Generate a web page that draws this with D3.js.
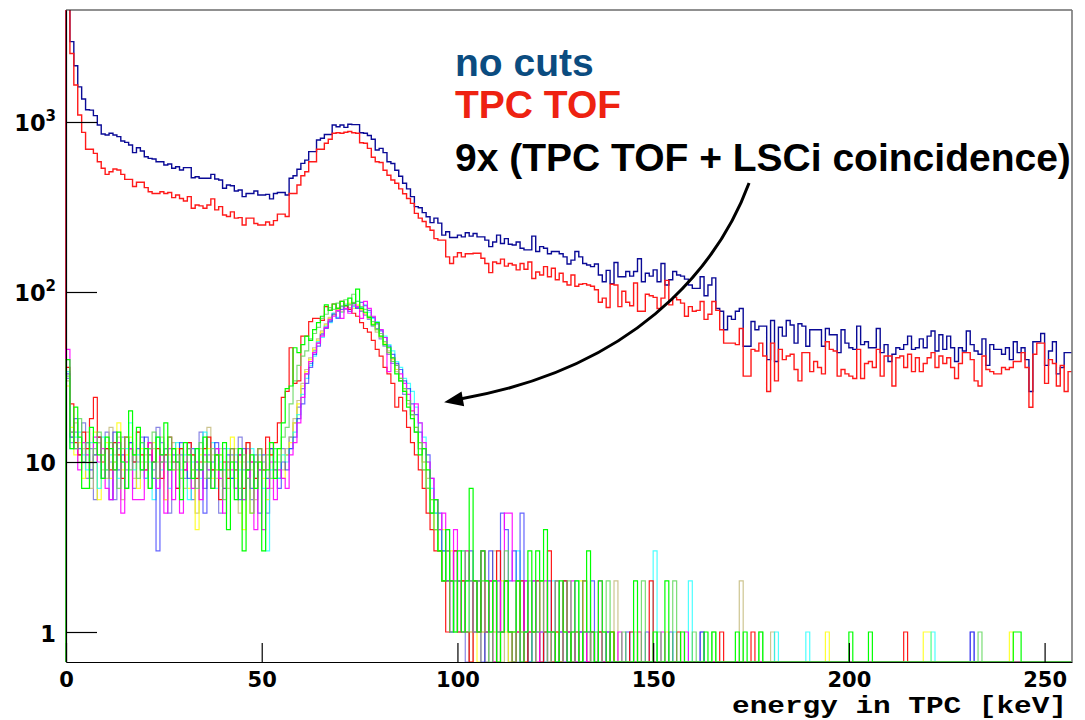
<!DOCTYPE html>
<html>
<head>
<meta charset="utf-8">
<script src="https://cdn.jsdelivr.net/npm/d3@7"></script>
<style>
  body { margin: 0; background: #fff; }
  svg { display: block; }
</style>
</head>
<body>
<svg id="chart" width="1085" height="720"></svg>
<script>
// ---- histogram data: counts per 1 keV bin, starting at 0 keV ----
const binWidth = 1;          // keV
const xMax = 257;            // keV, right edge of the frame

// spectrum without cuts
const noCuts = [
  6000,2970,2140,1610,1365,1180,1175,1090,960,850,
  839,858,839,820,773,759,732,660,706,675,
  625,611,606,584,584,558,566,534,545,522,
  539,539,470,476,467,467,467,492,462,456,
  408,426,422,393,398,364,380,380,393,372,
  372,375,353,380,385,385,372,467,483,527,
  571,597,669,669,783,802,845,845,960,938,
  960,930,970,965,965,865,858,832,791,684,
  700,660,584,570,520,480,436,404,364,318,
  313,293,277,256,272,254,216,226,209,209,
  216,211,223,213,221,211,211,202,185,197,
  216,193,206,191,189,197,181,177,177,213,
  173,185,181,168,173,173,168,161,146,154,
  173,161,147,144,141,146,126,115,134,112,
  149,123,123,132,124,132,157,115,129,124,
  135,115,147,110,118,132,126,124,119,110,
  105,105,123,95,110,121,80,77,60,72,
  69,77,80,48,48,67,60,63,63,40,
  68,39,62,55,68,64,50,65,63,48,
  60,60,60,48,61,56,56,44,60,50,
  47,46,63,49,51,47,47,61,44,49,
  39,43,47,46,49,55,46,47,53,47,
  55,59,45,56,46,55,47,39,47,45,
  59,49,45,43,53,37,49,46,46,43,
  47,40,51,44,47,40,26,51,51,57,
  37,45,51,33,36,44,44
];

// spectrum with the TPC time-of-flight cut
const tpcTof = [
  5500,2530,1650,1100,869,691,691,654,584,534,
  492,510,529,522,492,460,460,417,442,442,
  411,389,380,380,389,380,385,359,372,355,
  343,364,311,325,321,311,325,353,304,318,
  284,278,296,272,274,248,272,272,253,248,
  248,258,248,263,287,287,278,380,380,426,
  483,510,584,584,691,691,750,791,858,865,
  858,870,880,865,858,755,750,700,620,584,
  578,520,486,456,436,404,378,355,332,290,
  272,260,242,231,206,202,202,161,147,161,
  170,161,168,168,169,169,158,147,130,150,
  147,156,142,147,144,135,147,136,150,120,
  131,126,141,123,138,118,129,115,110,126,
  108,111,112,110,108,103,87,92,81,111,
  110,82,101,87,83,113,77,77,97,95,
  93,80,92,117,84,93,90,86,72,82,
  77,78,88,69,74,88,78,60,50,50,
  50,49,61,32,32,46,45,50,42,26,
  50,30,46,40,42,43,35,30,44,44,
  34,39,36,33,51,46,45,32,35,33,
  32,31,46,31,38,39,36,46,32,42,
  42,28,41,42,36,43,34,41,34,38,
  41,44,36,42,38,41,36,31,38,44,
  44,40,30,28,42,35,34,33,33,36,
  35,36,39,39,44,36,21,43,50,50,
  29,40,38,28,37,26,34
];

// nine TPC TOF + LSCi coincidence spectra, bins 0..139, and isolated counts above
const coincViolet = [
  31,13,15,11,17,8,12,6,13,11, 15,10,6,12,14,9,13,7,10,14,
  8,12,9,16,13,10,5,12,10,11, 8,13,6,10,15,7,11,9,12,5,
  12,9,11,7,14,9,12,6,11,9, 10,5,12,10,8,12,11,14,17,21,
  27,33,38,45,50,57,62,68,75,77, 82,79,85,83,81,77,73,69,63,61,
  53,48,43,38,35,30,25,23,19,15, 12,10,7,5,5,3,2,2,1,2,
  1,2,0,1,2,1,1,0,2,1, 0,1,2,0,1,0,1,2,0,1,
  0,1,0,1,0,1,0,0,1,0, 0,1,0,0,1,0,0,0,0,0
];
const coincVioletTail = [[162,1],[231,1]];

const coincKhaki = [
  30,14,17,10,12,15,7,11,13,9, 8,16,11,14,6,10,12,8,15,10,
  11,7,12,10,14,6,10,13,9,12, 7,10,11,5,12,8,16,11,8,12,
  9,7,10,12,5,10,13,9,6,10, 9,12,7,10,11,9,12,14,18,23,
  29,35,41,47,53,59,65,71,73,80, 77,85,81,87,83,78,74,70,64,58,
  54,49,45,39,34,30,26,22,19,15, 12,9,8,5,4,3,2,3,2,1,
  2,2,1,0,2,1,2,0,1,3, 1,0,2,1,0,1,2,0,1,0,
  1,2,0,1,0,2,0,1,0,0, 1,0,1,0,1,0,0,1,0,0
];
const coincKhakiTail = [[140,2],[145,1],[172,2],[180,1]];

const coincYellow = [
  28,16,11,13,8,12,10,15,6,11, 13,8,10,17,9,11,14,10,7,12,
  9,11,13,8,10,6,11,9,12,8, 10,7,9,4,11,10,12,8,9,11,
  7,9,14,8,10,4,9,5,7,10, 8,6,11,9,12,8,11,13,17,22,
  28,34,40,46,52,58,64,70,74,79, 76,83,86,80,84,79,75,71,65,60,
  55,50,44,40,35,31,27,23,20,16, 13,10,7,6,4,3,4,2,3,1,
  2,1,3,1,2,0,1,2,1,1, 0,2,1,0,1,2,1,0,1,1,
  0,2,1,0,1,1,0,1,0,1, 0,2,0,1,0,0,1,0,0,1
];
const coincYellowTail = [[146,1],[153,1],[194,1],[219,1],[220,1],[241,1]];

const coincCyan = [
  34,12,14,15,11,9,13,10,7,14, 9,11,13,8,10,12,17,9,11,13,
  8,10,6,14,9,11,7,10,13,9, 11,6,10,12,8,15,9,13,7,10,
  9,12,8,11,9,6,10,12,8,11, 7,3,9,12,8,11,10,12,15,19,
  25,31,37,42,51,54,63,66,75,71, 76,84,79,82,88,81,84,76,70,67,
  60,55,49,45,39,36,31,29,26,21, 17,14,10,7,5,4,3,4,2,1,
  2,3,1,2,2,1,3,2,1,0, 2,1,2,1,0,3,2,1,0,1,
  2,1,0,1,2,0,1,0,1,0, 2,1,0,1,0,1,0,0,1,0
];
const coincCyanTail = [[144,1],[150,3],[155,1],[159,2],[181,1],[189,1],[221,1]];

const coincBlue = [
  33,14,18,12,10,13,9,11,14,8, 12,6,15,9,11,7,13,10,12,9,
  14,11,8,3,10,12,9,11,7,13, 10,8,12,9,9,5,8,10,13,9,
  7,11,8,10,6,12,9,7,10,5, 11,8,12,9,7,10,9,12,14,18,
  22,29,36,43,48,56,61,67,74,70, 79,83,77,85,80,87,83,78,71,65,
  59,54,48,43,38,35,30,27,22,19, 15,12,11,8,6,5,3,2,1,3,
  2,1,2,3,1,2,0,1,3,2, 1,5,4,2,3,2,5,1,0,2,
  1,0,1,2,1,0,1,2,0,1, 0,1,0,1,2,0,1,0,1,0
];
const coincBlueTail = [[143,1],[148,1],[154,1],[162,1],[231,1]];

const coincRed = [
  36,22,13,11,15,12,18,24,14,10, 12,9,13,11,8,14,12,10,15,11,
  9,13,10,12,8,11,14,10,7,12, 9,13,11,8,10,12,14,9,11,6,
  10,8,12,9,11,7,13,10,8,12, 9,14,11,13,17,24,26,47,29,30,
  55,55,67,70,70,68,82,78,85,80, 88,83,79,75,72,66,61,58,52,46,
  42,36,33,29,21,24,20,16,13,11, 9,7,5,4,3,3,2,1,2,3,
  1,2,1,0,2,1,3,1,2,0, 3,1,2,1,0,1,2,0,1,1,
  2,0,1,3,0,1,0,2,1,0, 1,0,2,0,1,0,1,0,0,1
];
const coincRedTail = [[144,1],[149,2],[156,1],[167,1],[175,1],[214,1]];

const coincMagenta = [
  46,15,12,9,13,11,8,14,10,12, 7,6,9,13,5,10,12,6,6,6,
  9,13,10,7,11,5,12,6,10,5, 9,12,7,10,6,11,9,7,12,8,
  5,10,9,7,11,6,8,10,4,9, 4,7,10,6,9,8,7,11,13,17,
  24,33,39,44,50,55,62,69,72,78, 70,80,75,86,82,70,88,80,72,66,
  60,54,34,41,37,33,29,25,20,22, 17,13,10,8,6,4,5,3,2,4,
  2,1,3,2,1,2,3,1,2,0, 2,1,5,5,2,1,0,2,1,2,
  0,1,2,0,1,2,1,0,1,2, 0,1,1,0,1,0,2,0,1,0
];
const coincMagentaTail = [[141,1],[146,1],[152,1],[158,1]];

const coincLime = [
  32,15,12,18,10,13,8,12,15,11, 9,13,10,7,12,14,9,11,8,13,
  10,12,15,8,10,12,14,9,11,8, 10,12,9,7,13,10,8,12,9,11,
  6,10,12,9,7,11,8,5,10,12, 9,11,8,12,10,14,16,22,30,37,
  42,45,53,57,62,70,74,81,79,86, 83,90,84,97,88,82,79,72,67,60,
  57,51,44,39,37,31,27,23,19,16, 13,9,7,6,4,3,2,3,1,2,
  2,3,1,2,1,2,2,1,0,2, 1,1,3,1,0,2,1,1,2,0,
  1,2,1,0,1,2,0,1,2,0, 1,0,2,1,0,1,0,1,2,0
];
const coincLimeTail = [[142,1],[147,2],[151,1],[155,2],[160,1],[165,1],[177,1],[233,1]];

const coincGreen = [
  40,12,21,14,7,7,16,13,11,8, 14,12,9,15,10,7,20,11,16,9,
  12,7,10,14,11,17,9,12,10,6, 13,11,8,12,9,14,10,7,11,9,
  13,4,10,6,12,3,9,11,7,10, 3,9,13,8,12,17,27,28,47,44,
  49,55,52,60,66,72,84,78,85,80, 88,83,92,86,104,80,76,71,64,66,
  55,49,47,41,33,30,26,21,18,15, 11,12,9,5,6,3,2,4,2,1,
  3,1,2,7,2,1,3,2,1,2, 0,1,2,1,1,2,0,1,3,1,
  3,2,4,1,1,0,2,1,0,1, 2,0,1,3,1,0,2,1,0,1
];
const coincGreenTail = [[145,2],[150,1],[153,2],[157,1],[163,1],[165,1],[171,1],[173,1],[177,1],[200,1],[205,1],[242,1],[243,1]];

// drawing order (last on top) and line colours of the coincidence spectra
const coincBins  = [coincViolet, coincKhaki, coincYellow, coincCyan, coincBlue, coincRed, coincMagenta, coincLime, coincGreen];
const coincTails = [coincVioletTail, coincKhakiTail, coincYellowTail, coincCyanTail, coincBlueTail, coincRedTail, coincMagentaTail, coincLimeTail, coincGreenTail];
const coincColors   = ["#5954d8", "#c0b675", "#ffff00", "#00ffff", "#0000ff", "#ff0000", "#ff00ff", "#59d454", "#00ff00"];
const coincOpacity  = [0.7, 0.8, 0.8, 0.7, 0.6, 0.9, 0.9, 0.8, 1.0];

// axis ticks
const xMajorTicks = [0, 50, 100, 150, 200, 250];
const xMinorTicks = [10,20,30,40,60,70,80,90,110,120,130,140,160,170,180,190,210,220,230,240];
const yMajorTicks = [1, 10, 100, 1000];
const yMinorTicks = [0.7,0.8,0.9, 2,3,4,5,6,7,8,9, 20,30,40,50,60,70,80,90,
                     200,300,400,500,600,700,800,900, 2000,3000,4000];
const yTickLabels = [["1",""], ["10",""], ["10","2"], ["10","3"]];

const legendLines = [
  { text: "no cuts", color: "#0b4c80" },
  { text: "TPC TOF", color: "#ee2211" },
  { text: "9x (TPC TOF + LSCi coincidence)", color: "#000000" }
];

// ---- layout ----
const svg = d3.select("#chart");
const frame = { left: 66, right: 1072, top: 10, bottom: 662 };

const x = d3.scaleLinear().domain([0, xMax]).range([frame.left, frame.right]);
const y = d3.scaleLog().domain([0.6661, 4558]).range([frame.bottom, frame.top]);

svg.append("defs").append("clipPath").attr("id", "plotClip")
  .append("rect")
  .attr("x", frame.left - 1).attr("y", frame.top)
  .attr("width", frame.right - frame.left + 1)
  .attr("height", frame.bottom - frame.top + 1);

// full array of counts from dense bins plus isolated entries
function expand(bins, tail) {
  const n = Math.ceil(xMax / binWidth);
  const out = new Array(n).fill(0);
  bins.forEach((v, i) => { out[i] = v; });
  (tail || []).forEach(([b, v]) => { out[b] = v; });
  return out;
}

// histogram outline; empty bins run along the bottom of the frame
function stepPath(counts) {
  const p = d3.path();
  const yOf = v => (v > 0 ? y(v) : frame.bottom);
  p.moveTo(x(0), frame.bottom);
  counts.forEach((v, i) => {
    const yy = yOf(v);
    p.lineTo(x(i * binWidth), yy);
    p.lineTo(x(Math.min((i + 1) * binWidth, xMax)), yy);
  });
  return p.toString();
}

const plot = svg.append("g").attr("clip-path", "url(#plotClip)");

plot.append("path")
  .attr("d", stepPath(noCuts))
  .attr("fill", "none").attr("stroke", "#0a0a96").attr("stroke-width", 1.4);

plot.append("path")
  .attr("d", stepPath(tpcTof))
  .attr("fill", "none").attr("stroke", "#ff1a1a").attr("stroke-width", 1.4);

coincBins.forEach((bins, k) => {
  plot.append("path")
    .attr("d", stepPath(expand(bins, coincTails[k])))
    .attr("fill", "none")
    .attr("stroke", coincColors[k])
    .attr("stroke-opacity", coincOpacity[k])
    .attr("stroke-width", 1.2);
});

// ---- axes ----
const tickFont = "'DejaVu Sans', sans-serif";

const gx = svg.append("g").attr("transform", `translate(0,${frame.bottom})`);
gx.call(d3.axisBottom(x).tickValues(xMinorTicks).tickSize(-9.5).tickSizeOuter(0).tickFormat(""));
gx.call(d3.axisBottom(x).tickValues(xMajorTicks).tickSize(-19).tickSizeOuter(0)
  .tickPadding(10).tickFormat(d3.format("d")));
gx.selectAll("text")
  .attr("font-family", tickFont).attr("font-weight", "bold")
  .attr("font-size", "21px").attr("fill", "#000");
gx.selectAll("line,path").attr("stroke", "#000").attr("stroke-width", 1.2);

const gy = svg.append("g").attr("transform", `translate(${frame.left},0)`);
gy.call(d3.axisLeft(y).tickValues(yMinorTicks).tickSize(-16).tickSizeOuter(0).tickFormat(""));
gy.call(d3.axisLeft(y).tickValues(yMajorTicks).tickSize(-31).tickSizeOuter(0).tickFormat(""));
gy.selectAll("line,path").attr("stroke", "#000").attr("stroke-width", 1.2);

yMajorTicks.forEach((v, i) => {
  const [base, exp] = yTickLabels[i];
  const t = svg.append("text")
    .attr("x", 56).attr("y", y(v) + 9.5)
    .attr("text-anchor", "end")
    .attr("font-family", tickFont).attr("font-weight", "bold")
    .attr("font-size", "22.5px").attr("fill", "#000");
  t.append("tspan").text(base);
  if (exp) {
    t.append("tspan").attr("dy", -10).attr("font-size", "15px").text(exp);
  }
});

// frame top and right
svg.append("line")
  .attr("x1", frame.left).attr("x2", frame.right)
  .attr("y1", frame.top).attr("y2", frame.top)
  .attr("stroke", "#222").attr("stroke-width", 1.2);
svg.append("line")
  .attr("x1", frame.right).attr("x2", frame.right)
  .attr("y1", frame.top).attr("y2", frame.bottom)
  .attr("stroke", "#777").attr("stroke-width", 1.6);

// x-axis title
svg.append("text")
  .attr("x", 1067).attr("y", 713)
  .attr("text-anchor", "end")
  .attr("font-family", "'Liberation Mono', 'DejaVu Sans Mono', monospace")
  .attr("font-weight", "bold").attr("font-size", "23px")
  .attr("textLength", 335).attr("lengthAdjust", "spacingAndGlyphs")
  .attr("fill", "#000")
  .text("energy in TPC [keV]");

// legend text
const legendBaselines = [76, 118, 171];
legendLines.forEach((d, i) => {
  svg.append("text")
    .attr("x", 455).attr("y", legendBaselines[i])
    .attr("font-family", "'Liberation Sans', Arial, sans-serif")
    .attr("font-weight", "bold").attr("font-size", "39px")
    .attr("fill", d.color)
    .text(d.text);
});

// curved arrow from the legend to the coincidence peak (energy, counts)
const arrowPts = {
  start: [174.5, 438], c1: [169.1, 202], c2: [151.8, 37.7], end: [100.7, 23.5], tip: [96.6, 22.5]
};
const P = k => [x(arrowPts[k][0]), y(arrowPts[k][1])];
const [s, c1, c2, e, tip] = ["start", "c1", "c2", "end", "tip"].map(P);
const curve = d3.path();
curve.moveTo(s[0], s[1]);
curve.bezierCurveTo(c1[0], c1[1], c2[0], c2[1], e[0], e[1]);
svg.append("path").attr("d", curve.toString())
  .attr("fill", "none").attr("stroke", "#000").attr("stroke-width", 3);

const dx = tip[0] - c2[0], dy = tip[1] - c2[1];
const len = Math.hypot(dx, dy);
const ux = dx / len, uy = dy / len;
const headLen = 19, headHalf = 7.5;
const bx = tip[0] - ux * headLen, by = tip[1] - uy * headLen;
svg.append("path")
  .attr("d", `M${tip[0]},${tip[1]}L${bx - uy * headHalf},${by + ux * headHalf}L${bx + uy * headHalf},${by - ux * headHalf}Z`)
  .attr("fill", "#000");
</script>
</body>
</html>
